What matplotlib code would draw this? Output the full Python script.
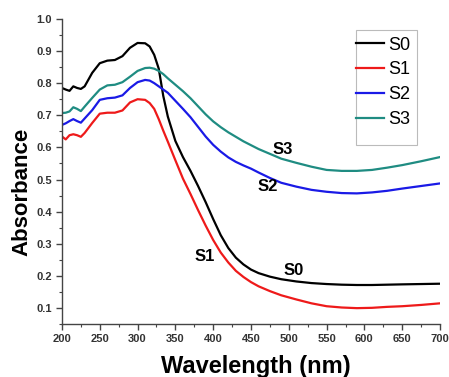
import numpy as np
import matplotlib; matplotlib.use("Agg"); import matplotlib.pyplot as plt
from matplotlib.ticker import MultipleLocator
from matplotlib.patches import Rectangle

plt.rcParams['font.family'] = ['Liberation Sans', 'DejaVu Sans']

# wavelength grid (nm) and absorbance
wl = [200, 205, 210, 215, 220, 225, 230, 240, 250, 260, 270, 280, 290, 300, 310, 316, 322, 328, 334, 340,
      350, 360, 370, 380, 390, 400, 410, 420, 430, 440, 450, 460, 475, 490, 510, 530, 550, 570, 590, 610,
      630, 650, 675, 700]
s0 = [0.785, 0.780, 0.776, 0.790, 0.785, 0.782, 0.790, 0.832, 0.862, 0.870, 0.872, 0.884, 0.910, 0.925, 0.924,
      0.914, 0.888, 0.845, 0.760, 0.696, 0.620, 0.570, 0.527, 0.480, 0.430, 0.377, 0.327, 0.287, 0.257, 0.236,
      0.220, 0.209, 0.198, 0.190, 0.183, 0.178, 0.175, 0.173, 0.172, 0.172, 0.173, 0.174, 0.175, 0.176]
s1 = [0.634, 0.625, 0.638, 0.641, 0.638, 0.633, 0.645, 0.676, 0.705, 0.708, 0.708, 0.715, 0.740, 0.750, 0.748,
      0.738, 0.720, 0.688, 0.652, 0.618, 0.560, 0.503, 0.455, 0.405, 0.357, 0.312, 0.273, 0.242, 0.216, 0.197,
      0.181, 0.168, 0.153, 0.140, 0.127, 0.115, 0.106, 0.102, 0.100, 0.101, 0.104, 0.106, 0.110, 0.115]
s2 = [0.670, 0.675, 0.682, 0.688, 0.682, 0.677, 0.690, 0.716, 0.748, 0.753, 0.755, 0.762, 0.785, 0.803, 0.810,
      0.808, 0.800, 0.790, 0.780, 0.770, 0.745, 0.720, 0.694, 0.664, 0.634, 0.608, 0.587, 0.569, 0.555, 0.544,
      0.534, 0.522, 0.505, 0.490, 0.478, 0.468, 0.462, 0.458, 0.457, 0.460, 0.465, 0.472, 0.480, 0.488]
s3 = [0.707, 0.708, 0.712, 0.725, 0.720, 0.713, 0.727, 0.754, 0.780, 0.793, 0.795, 0.803, 0.820, 0.838, 0.847,
      0.848, 0.845, 0.838, 0.828, 0.815, 0.795, 0.775, 0.753, 0.728, 0.703, 0.681, 0.663, 0.647, 0.633, 0.619,
      0.607, 0.595, 0.580, 0.565, 0.552, 0.540, 0.530, 0.527, 0.527, 0.530, 0.537, 0.545, 0.557, 0.570]
names = ['S0', 'S1', 'S2', 'S3']
colors = ['black', '#ee1a1a', '#1a1ae6', '#1f8c82']
# inline curve labels (x, y)
lab_x = [506, 389, 472, 492]
lab_y = [0.218, 0.262, 0.477, 0.595]

fig = plt.figure(figsize=(4.49, 3.77), dpi=100)
ax = fig.add_axes([0.138, 0.14, 0.842, 0.81])
for y, nm, c in zip([s0, s1, s2, s3], names, colors):
    ax.plot(wl, y, color=c, lw=1.6, label=nm)
for nm, x, y in zip(names, lab_x, lab_y):
    ax.text(x, y, nm, fontsize=12, fontweight='bold', ha='center', va='center')

ax.set_xlim(200, 700); ax.set_ylim(0.05, 1.0)
ax.xaxis.set_major_locator(MultipleLocator(50)); ax.xaxis.set_minor_locator(MultipleLocator(25))
ax.yaxis.set_minor_locator(MultipleLocator(0.05))
ax.set_yticks(np.arange(0.1, 1.01, 0.1))
ax.set_yticklabels([f'{v:.1f}' for v in np.arange(0.1, 1.01, 0.1)])
for s in ['top', 'right']: ax.spines[s].set_visible(False)
for s in ['left', 'bottom']: ax.spines[s].set_color('#444444'); ax.spines[s].set_linewidth(1.0)
ax.tick_params(which='major', length=4, width=1, color='#444444', labelsize=8, labelcolor='#333333', pad=3)
ax.tick_params(which='minor', length=2.5, width=0.8, color='#444444')
for t in ax.get_xticklabels() + ax.get_yticklabels(): t.set_fontweight('bold')
ax.set_xlabel('Wavelength (nm)', fontsize=17, fontweight='bold')
ax.set_ylabel('Absorbance', fontsize=16, fontweight='bold')
ax.xaxis.set_label_coords(0.512, -0.10)
ax.yaxis.set_label_coords(-0.077, 0.434)

leg = ax.legend(loc='upper left', bbox_to_anchor=(0.778, 0.942), fontsize=13, frameon=False,
                handlelength=1.55, handletextpad=0.25, labelspacing=0.43, borderpad=0, borderaxespad=0)
for l in leg.get_lines(): l.set_linewidth(1.6)
ax.add_patch(Rectangle((0.778, 0.587), 0.161, 0.377, transform=ax.transAxes, fill=False,
                       edgecolor='#bbbbbb', lw=0.8))

fig.savefig('out.png', dpi=100)
